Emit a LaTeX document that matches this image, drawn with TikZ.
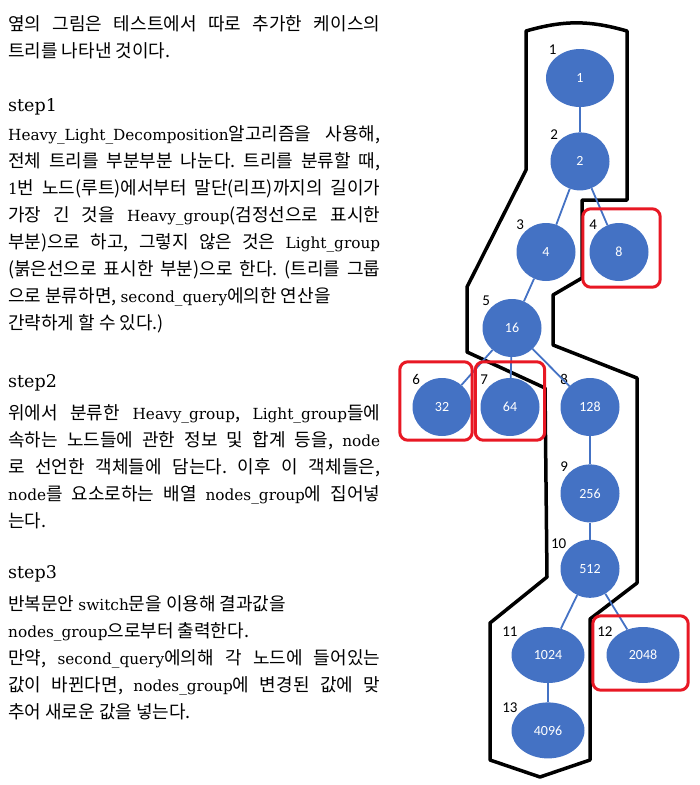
\documentclass[tikz,border=0pt]{standalone}
\usepackage{fontspec}
\setmainfont{Noto Sans CJK KR}
\newfontfamily\enfont{DejaVu Serif}
\newfontfamily\numfont{Carlito}
\newcommand\en[1]{{\enfont\fontsize{15.3}{27}\selectfont #1}}
\usetikzlibrary{shapes.geometric}
\usetikzlibrary{fit}
\usetikzlibrary{positioning}

\definecolor{nodeblue}{RGB}{68,114,196}
\definecolor{boxred}{RGB}{232,24,36}
\tolerance=10000
\hbadness=10000
\frenchspacing

\begin{document}
\begin{tikzpicture}[
        x=1pt, y=-1pt,
        vert/.style={ellipse, fill=nodeblue, text=white, font=\numfont\fontsize{14}{14}\selectfont, minimum width=59pt, minimum height=58pt, inner sep=0pt},
        rootvert/.style={vert, minimum width=68pt},
        widevert/.style={vert, minimum width=73pt, minimum height=56pt},
        idx/.style={font=\numfont\fontsize{15}{15}\selectfont, text=black, inner sep=1pt},
        treeline/.style={draw=nodeblue, line width=1.8pt},
        lightbox/.style={draw=boxred, line width=3pt, rounded corners=8pt, inner xsep=8pt, inner ysep=10pt},
        heavyline/.style={draw=black, line width=3.5pt, line join=round},
        textblock/.style={anchor=base west, inner sep=0pt, text width=372pt, align=justify, font=\fontsize{18}{27}\selectfont},
        stephead/.style={anchor=base west, inner sep=0pt, font=\enfont\fontsize{17.5}{20}\selectfont}
        ]
        \useasboundingbox (0,0) rectangle (700,785);

        % explanation on the left
        \node (intro) [textblock] at (8,30) {옆의 그림은 테스트에서 따로 추가한 케이스의\linebreak
            트리를 나타낸 것이다.};

        \node (s1)    [stephead]  at (8,111) {step1};
        \node (s1txt) [textblock] at (8,140) {\en{Heavy\_Light\_Decomposition}알고리즘을 사용해,\linebreak
            전체 트리를 부분부분 나눈다. 트리를 분류할 때,\linebreak
            \en{1}번 노드(루트)에서부터 말단(리프)까지의 길이가\linebreak
            가장 긴 것을 \en{Heavy\_group}(검정선으로 표시한\linebreak
            부분)으로 하고, 그렇지 않은 것은 \en{Light\_group}\linebreak
            (붉은선으로 표시한 부분)으로 한다. (트리를 그룹\linebreak
            으로 분류하면, \en{second\_query}에의한 연산을\newline
            간략하게 할 수 있다.)};

        \node (s2)    [stephead]  at (8,387) {step2};
        \node (s2txt) [textblock] at (8,419) {위에서 분류한 \en{Heavy\_group}, \en{Light\_group}들에\linebreak
            속하는 노드들에 관한 정보 및 합계 등을, \en{node}\linebreak
            로 선언한 객체들에 담는다. 이후 이 객체들은,\linebreak
            \en{node}를 요소로하는 배열 \en{nodes\_group}에 집어넣\linebreak
            는다.};

        \node (s3)    [stephead]  at (8,578) {step3};
        \node (s3txt) [textblock] at (8,610) {반복문안 \en{switch}문을 이용해 결과값을\newline
            \en{nodes\_group}으로부터 출력한다.\newline
            만약, \en{second\_query}에의해 각 노드에 들어있는\linebreak
            값이 바뀐다면, \en{nodes\_group}에 변경된 값에 맞\linebreak
            추어 새로운 값을 넣는다.};

        % heavy group outline
        \draw[heavyline] (526,31) to[bend left=16] (627,31) -- (627,200) -- (582,200) -- (582,278)
            -- (553,295) -- (553,345) -- (637,378) -- (637,583) -- (590,619) -- (590,760)
            -- (540,777) -- (490,760) -- (490,623) -- (547,577) -- (545,388) -- (467,352)
            -- (467,287) -- (526,170) -- cycle;

        % tree nodes
        \node (n1)    [rootvert, label={[idx]135:1}] at (580,78) {1};
        \node (n2)    [vert, label={[idx]135:2}, below=25pt of n1] {2};
        \node (n4)    [vert, label={[idx]135:3}] at (546,252) {4};
        \node (n8)    [vert, label={[idx]135:4}] at (619,252) {8};
        \node (n16)   [vert, label={[idx]135:5}] at (512,328) {16};
        \node (n32)   [vert, label={[idx]135:6}] at (442,407) {32};
        \node (n64)   [vert, label={[idx]135:7}] at (510,407) {64};
        \node (n128)  [vert, label={[idx]135:8}] at (590,407) {128};
        \node (n256)  [vert, label={[idx]135:9}, below=28pt of n128] {256};
        \node (n512)  [vert, label={[idx]140:10}, below=17pt of n256] {512};
        \node (n1024) [widevert, label={[idx]150:11}] at (548,655) {1024};
        \node (n2048) [widevert, label={[idx]150:12}] at (643,655) {2048};
        \node (n4096) [widevert, label={[idx]150:13}, below=19pt of n1024] {4096};

        % tree edges
        \draw[treeline] (n1)    -- (n2);
        \draw[treeline] (n2)    -- (n4);
        \draw[treeline] (n2)    -- (n8);
        \draw[treeline] (n4)    -- (n16);
        \draw[treeline] (n16)   -- (n32);
        \draw[treeline] (n16)   -- (n64);
        \draw[treeline] (n16)   -- (n128);
        \draw[treeline] (n128)  -- (n256);
        \draw[treeline] (n256)  -- (n512);
        \draw[treeline] (n512)  -- (n1024);
        \draw[treeline] (n512)  -- (n2048);
        \draw[treeline] (n1024) -- (n4096);

        % light groups
        \node (g8)    [lightbox, fit=(n8), inner xsep=9pt, xshift=2.5pt, yshift=4pt] {};
        \node (g32)   [lightbox, fit=(n32), inner xsep=6.5pt, xshift=-6pt, yshift=6pt] {};
        \node (g64)   [lightbox, fit=(n64), inner xsep=5pt, yshift=6pt] {};
        \node (g2048) [lightbox, fit=(n2048), inner xsep=11pt, inner ysep=9pt, xshift=-2.5pt, yshift=2pt] {};

    \end{tikzpicture}
\end{document}
